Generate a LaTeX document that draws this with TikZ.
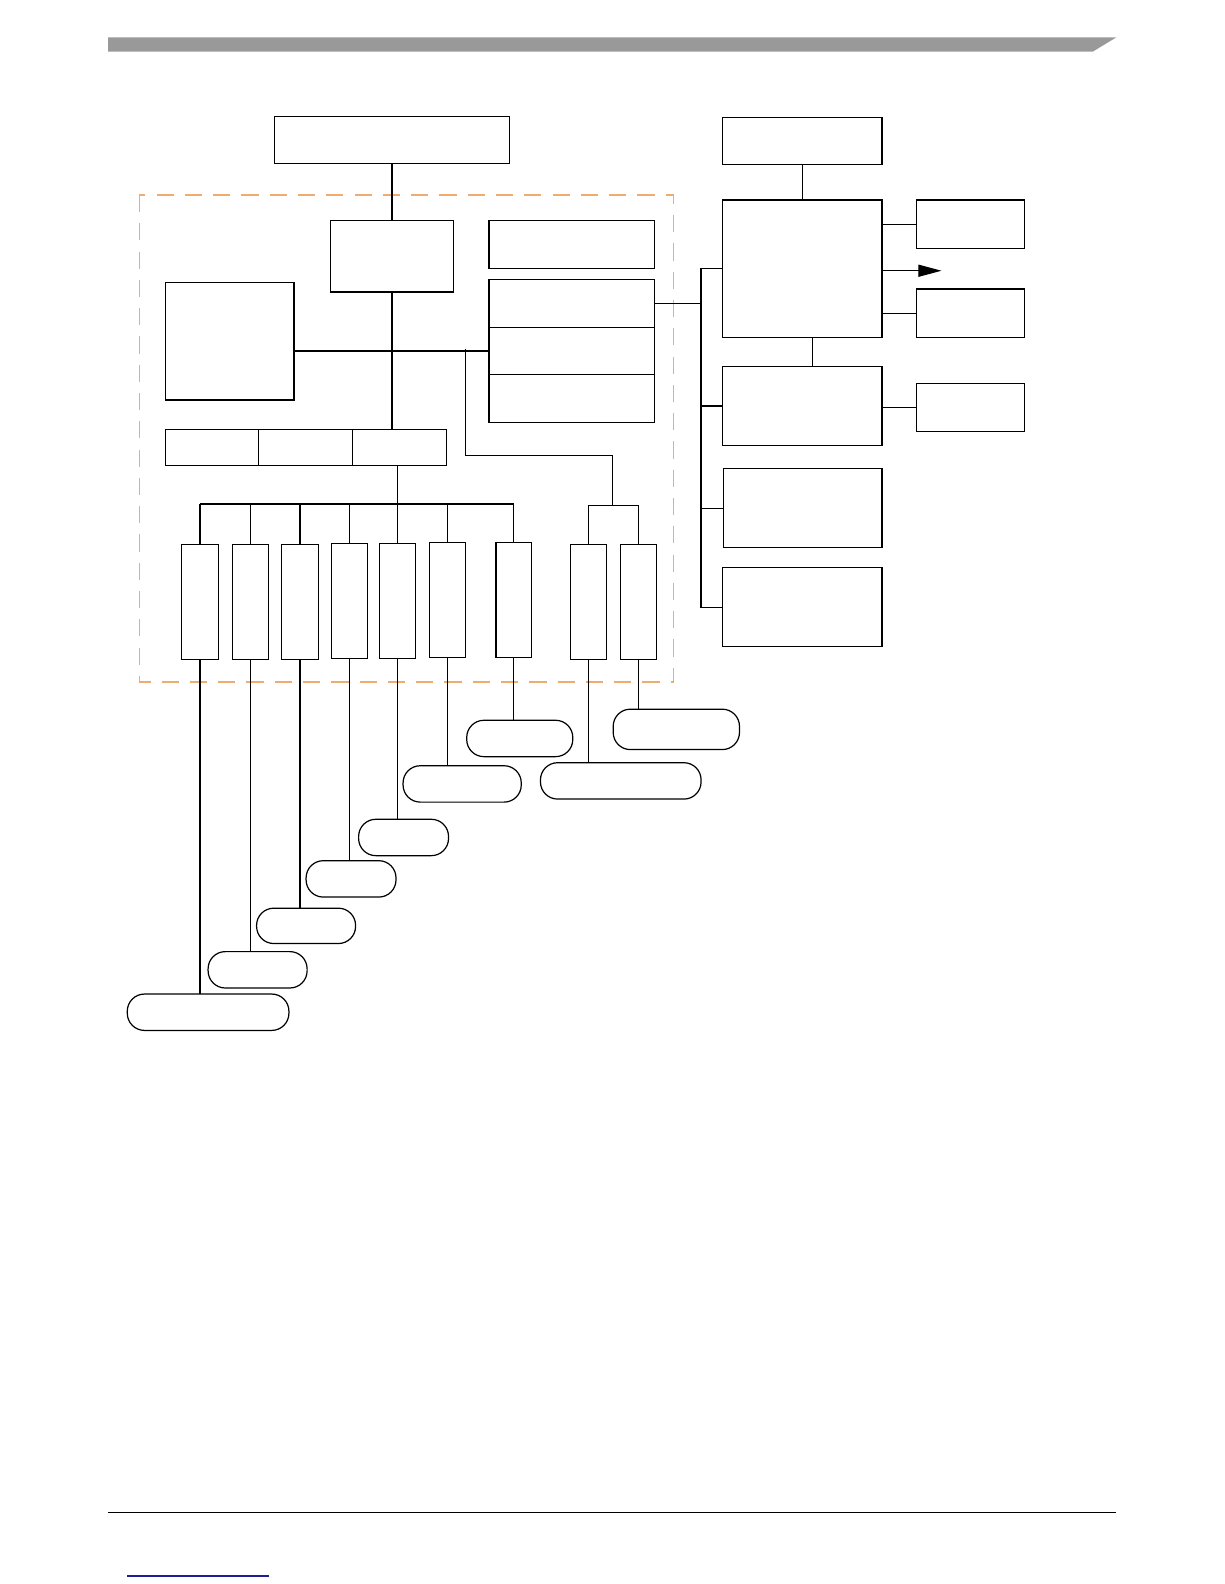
\documentclass[tikz,border=0pt]{standalone}
\usetikzlibrary{arrows.meta,fit}
\definecolor{cageorange}{RGB}{240,172,110}
\definecolor{barGray}{RGB}{153,153,153}
\definecolor{linkBlue}{RGB}{32,32,150}
\begin{document}
\begin{tikzpicture}[x=0.5pt, y=-0.5pt,
    blk/.style={draw, line width=0.6pt, inner sep=0pt, outer sep=0pt},
    pill/.style={blk, rounded corners=8.5pt},
    wire/.style={line width=0.6pt},
    cage/.style={draw=cageorange, line width=0.6pt, dash pattern=on 8.5pt off 5.5pt}]
    \useasboundingbox (0,0) rectangle (1212,1568);
    % page header / footer
    \fill[barGray] (107,37) -- (1105,37) -- (1082,51) -- (107,51) -- cycle;
    \draw[line width=0.7pt] (107,1497) -- (1105,1497);
    \draw[linkBlue, line width=0.7pt] (126,1560) -- (266,1560);
    % dashed boundary
    \draw[cage] (138,193) rectangle (667,675);
    % plain boxes
    \foreach \n/\xa/\ya/\xb/\yb in {A/272/115/504/162, B/715/116/873/163,
        C/327/218/449/289, D/484/218/648/266,
        E1/484/277/648/324, E2/484/324/648/371, E3/484/371/648/418,
        F/164/280/291/396,
        G1/164/425/256/461, G2/256/425/349/461, G3/349/425/442/461,
        H1/180/539/216/653, H2/230/539/266/653, H3/279/539/315/653,
        H4/328/538/364/652, H5/376/538/411/652, H6/425/537/461/651,
        H7/491/537/526/651, H8/565/539/600/653, H9/614/539/650/653,
        K/715/198/873/334, L1/907/198/1014/246, L2/907/286/1014/334,
        M/715/363/873/441, N/907/380/1014/427,
        P/716/464/873/542, Q/715/562/873/640} {
        \node[blk, fit={(\xa,\ya) (\xb,\yb)}] (\n) {};
    }
    % rounded end boxes
    \foreach \n/\xa/\ya/\xb/\yb in {R1/126/984/286/1020, R2/206/942/304/978,
        R3/254/899/352/934, R4/303/852/392/888, R5/355/811/444/847,
        R6/399/758/516/794, R7/462/713/567/749, R8/535/755/694/791,
        R9/607/702/732/742} {
        \node[pill, fit={(\xa,\ya) (\xb,\yb)}] (\n) {};
    }
    % helper points
    \coordinate (bus) at (0,499);
    \coordinate (tap) at (461,345);
    \coordinate (fork) at (606,500);
    \coordinate (rbus) at (694,0);
    \coordinate (kout) at (932,268);
    % left part
    \draw[wire] (A.south) -- (C.north);
    \draw[wire] (C.south) -- (C.south |- G3.north);
    \draw[wire] (E2.west) -- (E2.west -| F.east);
    \draw[wire] (tap) |- (fork |- 0,451) -- (fork);
    \draw[wire] (H8.north) |- (fork) -| (H9.north);
    \draw[wire] (G3.south -| H5.north) -- (H5.north);
    \draw[wire] (H1.north |- bus) -- (H7.north |- bus);
    \foreach \h in {H1,H2,H3,H4,H6,H7} {
        \draw[wire] (\h.north) -- (\h.north |- bus);
    }
    \foreach \h/\r in {H1/R1,H2/R2,H3/R3,H4/R4,H5/R5,H6/R6,H7/R7,H8/R8,H9/R9} {
        \draw[wire] (\h.south) -- (\h.south |- \r.north);
    }
    % right part
    \draw[wire] (B.south) -- (B.south |- K.north);
    \draw[wire] (L1.west) -- (L1.west -| K.east);
    \draw[wire] (L2.west) -- (L2.west -| K.east);
    \draw[wire, -{Triangle[length=11.5pt, width=6pt]}] (K.east |- kout) -- (kout);
    \draw[wire] ([xshift=5pt]K.south) -- ([xshift=5pt]M.north);
    \draw[wire] (N.west) -- (N.west -| M.east);
    \draw[wire] (E1.east) -- (E1.east -| rbus);
    \draw[wire] (K.west) -- (K.west -| rbus) |- (Q.west);
    \foreach \b in {M,P} {
        \draw[wire] (\b.west) -- (\b.west -| rbus);
    }
\end{tikzpicture}
\end{document}
